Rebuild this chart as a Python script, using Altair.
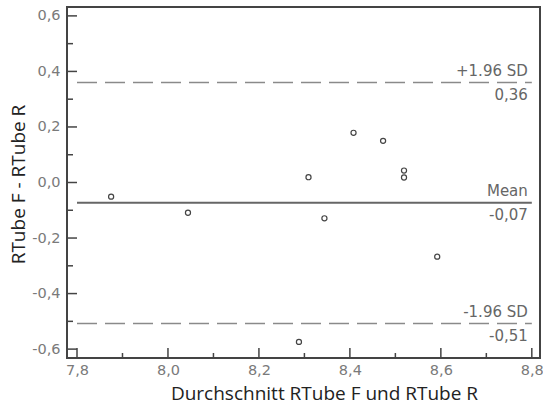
import altair as alt
import pandas as pd

# Data
avg_vals = [7.875, 8.044, 8.309, 8.344, 8.408, 8.473, 8.519, 8.519, 8.592, 8.288]
diff_vals = [-0.051, -0.109, 0.019, -0.129, 0.179, 0.150, 0.043, 0.018, -0.267, -0.574]

ref_values = [0.36, -0.073, -0.508]
ref_names = ["+1.96 SD", "Mean", "-1.96 SD"]
ref_numbers = ["0,36", "-0,07", "-0,51"]
ref_dashed = [True, False, True]

x_major = [7.8, 8.0, 8.2, 8.4, 8.6, 8.8]
x_minor = [7.9, 8.1, 8.3, 8.5, 8.7]
y_major = [-0.6, -0.4, -0.2, 0.0, 0.2, 0.4, 0.6]
y_minor = [-0.5, -0.3, -0.1, 0.1, 0.3, 0.5]

X_DOMAIN = [7.778, 8.818]
Y_DOMAIN = [-0.632, 0.632]
W, H = 473, 351

pts = pd.DataFrame({"avg": avg_vals, "diff": diff_vals})
refs = pd.DataFrame({"y": ref_values, "name": ref_names, "num": ref_numbers,
                     "dashed": ref_dashed, "x1": x_major[0], "x2": x_major[-1]})

label_expr = "replace(replace(format(datum.value, '.1f'), '.', ','), '\u2212', '-')"
xscale = alt.Scale(domain=X_DOMAIN, nice=False, zero=False)
yscale = alt.Scale(domain=Y_DOMAIN, nice=False, zero=False)

LABEL_FONT = "DejaVu Sans"

x_axis = alt.Axis(values=x_major, labelExpr=label_expr, ticks=False, domain=False, grid=False,
                  labelFont=LABEL_FONT, labelFontSize=14.5, labelColor="#7a7a7a", labelPadding=5,
                  title="Durchschnitt RTube F und RTube R", titleFont="Open Sans",
                  titleFontSize=19, titleFontWeight="normal", titleColor="#222222",
                  titleX=257, titleY=41, titleBaseline="alphabetic", labelFlush=False)
y_axis = alt.Axis(values=y_major, labelExpr=label_expr, ticks=False, domain=False, grid=False,
                  labelFont=LABEL_FONT, labelFontSize=14.5, labelColor="#7a7a7a", labelPadding=7,
                  title="RTube F - RTube R", titleFont="Open Sans",
                  titleFontSize=19, titleFontWeight="normal", titleColor="#222222",
                  titleX=-43, titleY=177, titleAngle=-90, titleBaseline="alphabetic",
                  labelFlush=False)

points = alt.Chart(pts).mark_point(shape="circle", filled=False, size=26, strokeWidth=1.2,
                                   color="#444444", opacity=1).encode(
    x=alt.X("avg:Q", scale=xscale, axis=x_axis),
    y=alt.Y("diff:Q", scale=yscale, axis=y_axis),
)

sd_lines = alt.Chart(refs).transform_filter("datum.dashed").mark_rule(
    color="#8a8a8a", strokeWidth=1.5, strokeDash=[20, 8]).encode(
    x=alt.X("x1:Q", scale=xscale), x2="x2:Q", y=alt.Y("y:Q", scale=yscale))
mean_line = alt.Chart(refs).transform_filter("!datum.dashed").mark_rule(
    color="#666666", strokeWidth=2).encode(
    x=alt.X("x1:Q", scale=xscale), x2="x2:Q", y=alt.Y("y:Q", scale=yscale))

name_text = alt.Chart(refs).mark_text(align="right", baseline="alphabetic", dx=-4, dy=-7,
                                      font=LABEL_FONT, fontSize=15, color="#666666").encode(
    x=alt.X("x2:Q", scale=xscale), y=alt.Y("y:Q", scale=yscale), text="name:N")
num_text = alt.Chart(refs).mark_text(align="right", baseline="alphabetic", dx=-4, dy=17,
                                     font=LABEL_FONT, fontSize=15, color="#666666").encode(
    x=alt.X("x2:Q", scale=xscale), y=alt.Y("y:Q", scale=yscale), text="num:N")

tick_color = "#444444"
xmaj = alt.Chart(pd.DataFrame({"v": x_major})).mark_rule(color=tick_color, strokeWidth=1.5).encode(
    x=alt.X("v:Q", scale=xscale), y=alt.value(H), y2=alt.value(H - 10))
xmin = alt.Chart(pd.DataFrame({"v": x_minor})).mark_rule(color=tick_color, strokeWidth=1.5).encode(
    x=alt.X("v:Q", scale=xscale), y=alt.value(H), y2=alt.value(H - 5))
ymaj = alt.Chart(pd.DataFrame({"v": y_major})).mark_rule(color=tick_color, strokeWidth=1.5).encode(
    y=alt.Y("v:Q", scale=yscale), x=alt.value(0), x2=alt.value(10))
ymin = alt.Chart(pd.DataFrame({"v": y_minor})).mark_rule(color=tick_color, strokeWidth=1.5).encode(
    y=alt.Y("v:Q", scale=yscale), x=alt.value(0), x2=alt.value(6))

chart = alt.layer(
    sd_lines, mean_line, name_text, num_text, xmaj, xmin, ymaj, ymin, points
).properties(
    width=W, height=H,
    autosize=alt.AutoSizeParams(type="none"),
    padding={"left": 67, "top": 7, "right": 3, "bottom": 47},
    background="white",
).configure_view(stroke="#444444", strokeWidth=2)

chart.save("out.html", embed_options={"renderer": "svg", "actions": False})
